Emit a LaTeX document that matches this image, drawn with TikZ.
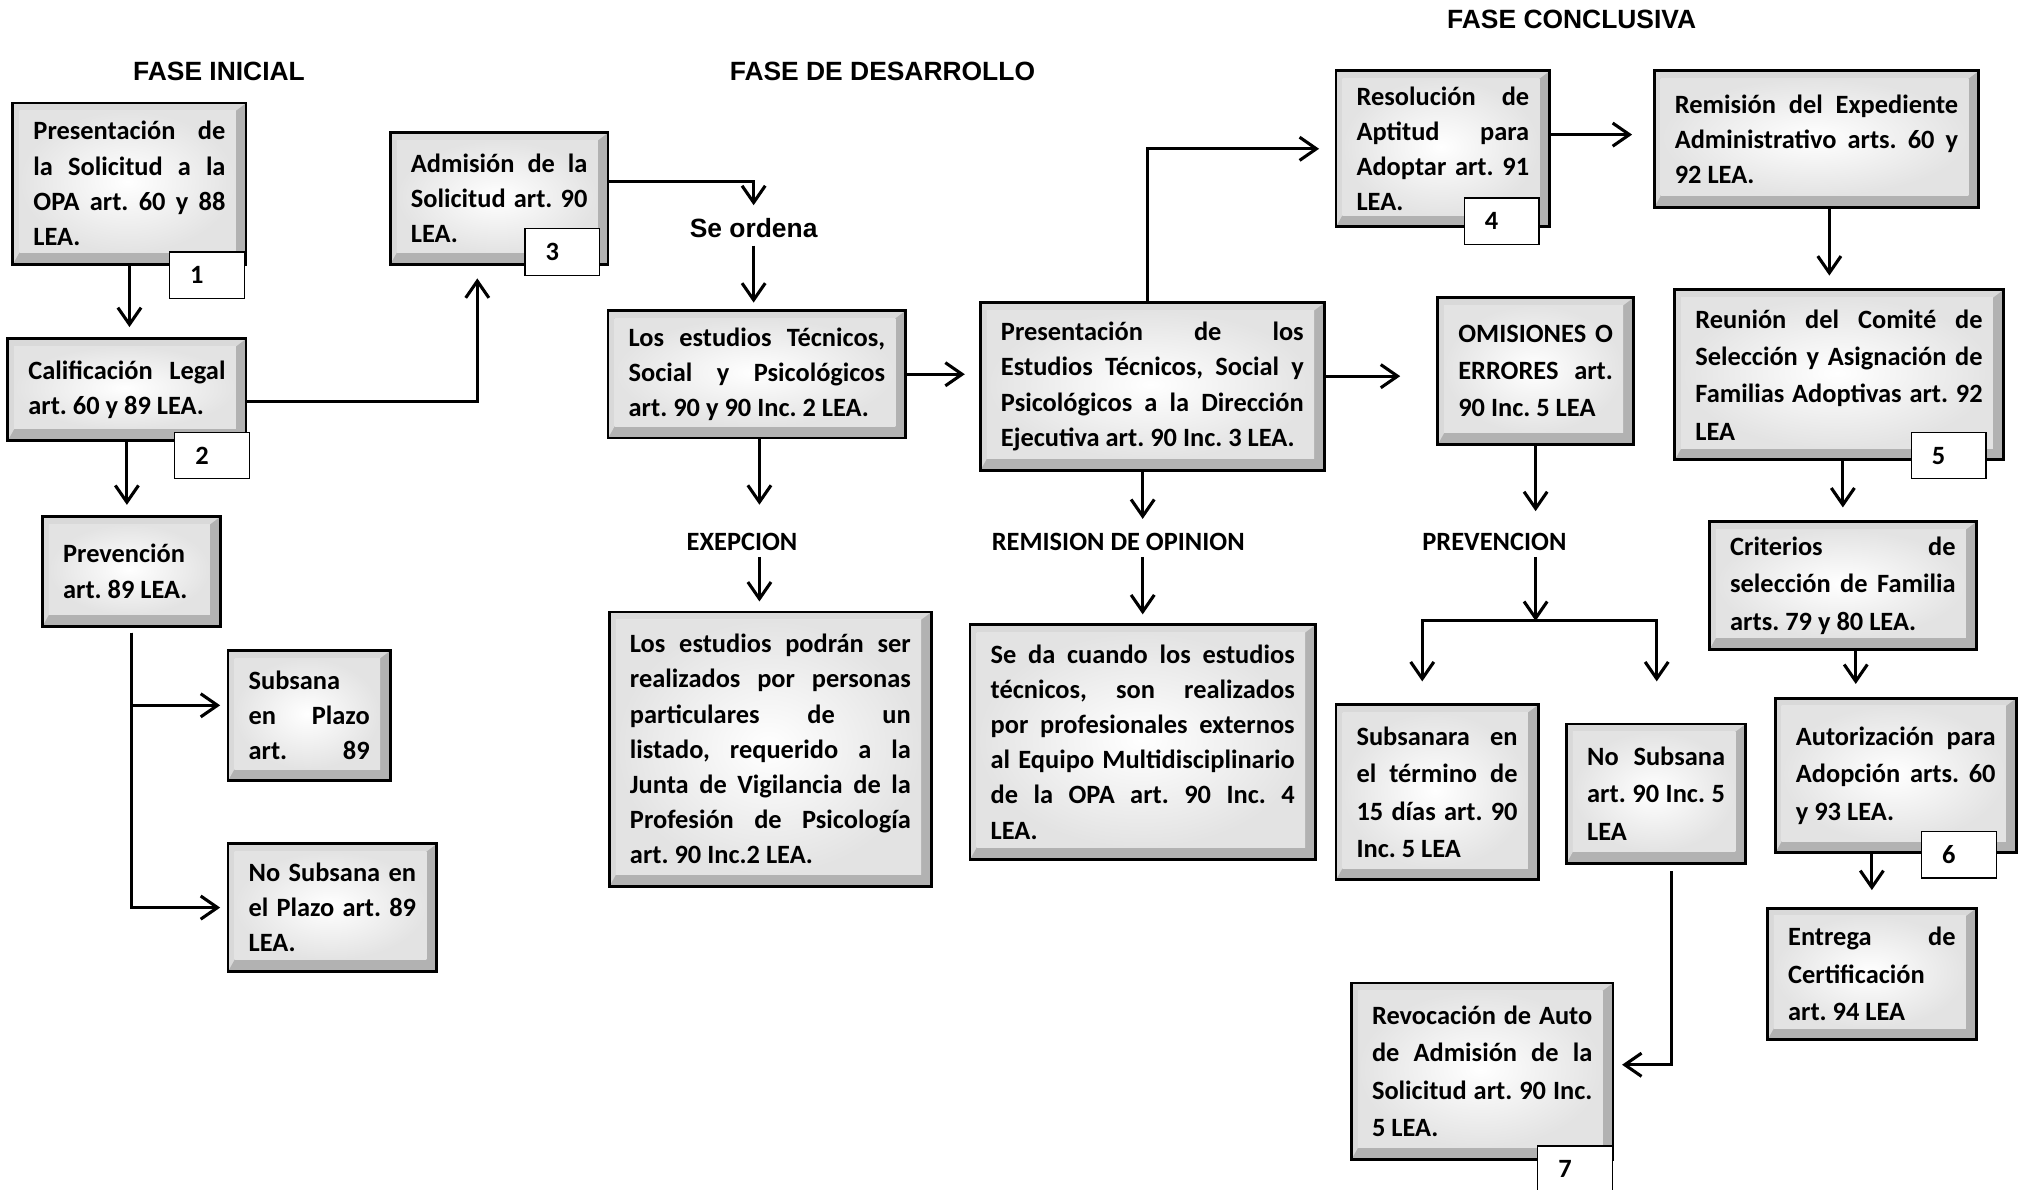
\documentclass[tikz,border=0pt]{standalone}
\usepackage{fontspec}
\setmainfont{Carlito}
\newfontfamily\arialfont{Liberation Sans}
\usetikzlibrary{arrows.meta}
\frenchspacing

\tikzset{
  caja/.style={draw=black, line width=2.2pt, fill=gray!60, align=justify,
    inner xsep=16pt, inner ysep=4pt,
    font=\fontsize{20.5}{27.3}\selectfont\bfseries,
    path picture={
      \path (path picture bounding box.north west) coordinate (bnw)
            (path picture bounding box.north east) coordinate (bne)
            (path picture bounding box.south west) coordinate (bsw)
            (path picture bounding box.south east) coordinate (bse);
      \fill[gray!30] (bnw) -- (bne) -- ([shift={(-8pt,-6pt)}]bne) -- ([shift={(5pt,-6pt)}]bnw)
        -- ([shift={(5pt,9pt)}]bsw) -- (bsw) -- cycle;
      \shade[inner color=white, outer color=gray!22]
        ([shift={(5pt,-6pt)}]bnw) rectangle ([shift={(-8pt,9pt)}]bse);
    }},
  cajab/.style={caja, font=\fontsize{20.5}{29}\selectfont\bfseries},
  numero/.style={draw=black, line width=1pt, fill=white, align=left,
    text width=26pt, inner xsep=16pt, minimum height=36pt,
    font=\fontsize{20.5}{24}\selectfont\bfseries},
  etiqueta/.style={inner sep=0pt, text height=14pt, text depth=0pt,
    font=\fontsize{20.5}{24}\selectfont\bfseries},
  titulo/.style={inner sep=0pt, text height=15pt, text depth=0pt,
    font=\arialfont\bfseries\fontsize{20.5}{24}\selectfont},
  flecha/.style={line width=2.4pt, -{Straight Barb[length=13pt,width=18pt]}, shorten >=8pt}
}

\begin{document}
\begin{tikzpicture}[x=1pt, y=-1pt]
  \useasboundingbox (0,0) rectangle (1568,923);

  \node[titulo] (fini) at (170,55) {FASE INICIAL};
  \node[titulo] (fdes) at (685,55) {FASE DE DESARROLLO};
  \node[titulo] (fcon) at (1220,15) {FASE CONCLUSIVA};

  % fase inicial
  \node[caja, text width=149pt, minimum height=125pt] (n1) at (100.5,142.5)
    {Presentación de\linebreak la Solicitud a la\linebreak OPA art. 60 y 88\linebreak LEA.};
  \node[caja, text width=153pt, minimum height=79pt] (n2) at (98.5,302.5)
    {Calificación Legal\linebreak art. 60 y 89 LEA.};
  \node[caja, text width=106pt, minimum height=85pt] (n3) at (102,443.5)
    {Prevención\linebreak art. 89 LEA.};
  \node[caja, text width=94pt, minimum height=101pt] (n4) at (240,555.5)
    {Subsana\linebreak en Plazo\linebreak \hbox to \hsize{art.\hfill 89}};
  \node[caja, text width=130pt, minimum height=99pt] (n5) at (258,704.5)
    {No Subsana en\linebreak el Plazo art. 89\linebreak LEA.};
  \node[caja, text width=137pt, minimum height=102pt] (n6) at (387.5,154)
    {Admisión de la\linebreak Solicitud art. 90\linebreak LEA.};

  % fase de desarrollo
  \node[titulo] (ordena) at (585,177) {Se ordena};
  \node[caja, text width=199pt, minimum height=99pt] (n7) at (587.5,290.5)
    {Los estudios Técnicos,\linebreak Social y Psicológicos\linebreak art. 90 y 90 Inc. 2 LEA.};
  \node[caja, text width=235pt, minimum height=130pt] (n8) at (894.5,300)
    {Presentación de los\linebreak Estudios Técnicos, Social y\linebreak Psicológicos a la Dirección\linebreak Ejecutiva art. 90 Inc. 3 LEA.};
  \node[etiqueta] (exep) at (576,420) {EXEPCION};
  \node[etiqueta] (remi) at (868,420) {REMISION DE OPINION};
  \node[caja, text width=218pt, minimum height=213pt] (n9) at (598,581.5)
    {Los estudios podrán ser\linebreak realizados por personas\linebreak particulares de un\linebreak listado, requerido a la\linebreak Junta de Vigilancia de la\linebreak Profesión de Psicología\linebreak art. 90 Inc.2 LEA.};
  \node[caja, text width=236pt, minimum height=182pt] (n10) at (887,576)
    {Se da cuando los estudios\linebreak técnicos, son realizados\linebreak por profesionales externos\linebreak al Equipo Multidisciplinario\linebreak de la OPA art. 90 Inc. 4\linebreak LEA.};

  % fase conclusiva
  \node[caja, text width=134pt, minimum height=121pt] (n11) at (1120,115.5)
    {Resolución de\linebreak Aptitud para\linebreak Adoptar art. 91\linebreak LEA.};
  \node[caja, text width=220pt, minimum height=106pt] (n12) at (1410,108)
    {Remisión del Expediente\linebreak Administrativo arts. 60 y\linebreak 92 LEA.};
  \node[cajab, text width=120pt, minimum height=114pt] (n13) at (1192,288)
    {OMISIONES O\linebreak ERRORES art.\linebreak 90 Inc. 5 LEA};
  \node[cajab, text width=223pt, minimum height=132pt] (n14) at (1427.5,291)
    {Reunión del Comité de\linebreak Selección y Asignación de\linebreak Familias Adoptivas art. 92\linebreak LEA};
  \node[etiqueta] (prevl) at (1160,420) {PREVENCION};
  \node[cajab, text width=175pt, minimum height=99pt] (n15) at (1430.5,454.5)
    {Criterios de\linebreak selección de Familia\linebreak arts. 79 y 80 LEA.};
  \node[cajab, text width=155pt, minimum height=120pt] (n16) at (1471.5,602)
    {Autorización para\linebreak Adopción arts. 60\linebreak y 93 LEA.};
  \node[cajab, text width=130pt, minimum height=102pt] (n17) at (1453,756)
    {Entrega de\linebreak Certificación\linebreak art. 94 LEA};
  \node[cajab, text width=125pt, minimum height=136pt] (n18) at (1115.5,615)
    {Subsanara en\linebreak el término de\linebreak 15 días art. 90\linebreak Inc. 5 LEA};
  \node[cajab, text width=107pt, minimum height=108pt] (n19) at (1285.5,616)
    {No Subsana\linebreak art. 90 Inc. 5\linebreak LEA};
  \node[cajab, text width=171pt, minimum height=137pt] (n20) at (1150.5,831.5)
    {Revocación de Auto\linebreak de Admisión de la\linebreak Solicitud art. 90 Inc.\linebreak 5 LEA.};

  \node[numero, anchor=north east] (b1) at ([shift={(-2pt,11pt)}]n1.south east) {1};
  \node[numero, anchor=north east] (b2) at ([shift={(2pt,8pt)}]n2.south east) {2};
  \node[numero, anchor=north east] (b3) at ([shift={(-7pt,29pt)}]n6.south east) {3};
  \node[numero, anchor=north east] (b4) at ([shift={(-9pt,24pt)}]n11.south east) {4};
  \node[numero, anchor=north east] (b5) at ([shift={(-14pt,23pt)}]n14.south east) {5};
  \node[numero, anchor=north east] (b6) at ([shift={(-16pt,18pt)}]n16.south east) {6};
  \node[numero, anchor=north east] (b7) at ([shift={(-1pt,12pt)}]n20.south east) {7};

  \coordinate (barL) at (1104,482);
  \coordinate (barR) at (1286,482);

  \draw[flecha] (n1.south) -- (n1.south |- n2.north);
  \draw[flecha] (n2.south) -- (n2.south |- n3.north);
  \draw[flecha, shorten <=4pt, shorten >=5pt] (n3.south) |- ([yshift=8pt]n4.west);
  \draw[flecha, shorten <=4pt, shorten >=5pt] (n3.south) |- (n5.west);
  \draw[flecha, shorten >=10pt] ([yshift=-9pt]n2.east) -| ([xshift=-17pt]n6.south);
  \draw[flecha, shorten >=10pt] ([yshift=13pt]n6.east) -| (ordena.north);
  \draw[flecha, shorten <=6pt, shorten >=5pt] (ordena.south) -- (ordena.south |- n7.north);
  \draw[flecha, shorten >=11pt] (n7.east) -- (n7.east -| n8.west);
  \draw[flecha, shorten >=21pt] ([xshift=2pt]n7.south) -- ([xshift=2pt]n7.south |- exep.north);
  \draw[flecha, shorten <=5pt, shorten >=7pt] ([xshift=2pt]n7.south |- exep.south) -- ([xshift=2pt]n7.south |- n9.north);
  \draw[flecha, shorten >=10pt] (n10.north |- n8.south) -- (n10.north |- remi.north);
  \draw[flecha, shorten <=5pt, shorten >=7pt] (n10.north |- remi.south) -- (n10.north);
  \draw[flecha, shorten >=12pt] ([xshift=-4pt]n8.north) |- (n11.west);
  \draw[flecha, shorten >=28pt] ([yshift=8pt]n8.east) -- ([yshift=8pt]n8.east -| n13.west);
  \draw[flecha, shorten >=16pt] ([yshift=11pt]n11.east) -- ([yshift=11pt]n11.east -| n12.west);
  \draw[flecha, shorten >=10pt] ([xshift=10pt]n12.south) -- ([xshift=10pt]n12.south |- n14.north);
  \draw[flecha, shorten >=16pt] (n13.south) -- (n13.south |- prevl.north);
  \draw[flecha, shorten <=5pt, shorten >=0pt] (n13.south |- prevl.south) -- (n13.south |- barL);
  \draw[flecha, shorten >=17pt] (barR) -- (barL) -- (barL |- n18.north);
  \draw[flecha, shorten >=32pt] (barL) -- (barR) -- (barR |- n19.north);
  \draw[flecha, shorten <=5pt, shorten >=6pt] ([xshift=12pt]n19.south) |- ([yshift=5pt]n20.east);
  \draw[flecha, shorten >=10pt] (n15.north |- n14.south) -- (n15.north);
  \draw[flecha, shorten >=10pt] ([xshift=10pt]n15.south) -- ([xshift=10pt]n15.south |- n16.north);
  \draw[flecha, shorten >=13pt] (n17.north |- n16.south) -- (n17.north);
\end{tikzpicture}
\end{document}
